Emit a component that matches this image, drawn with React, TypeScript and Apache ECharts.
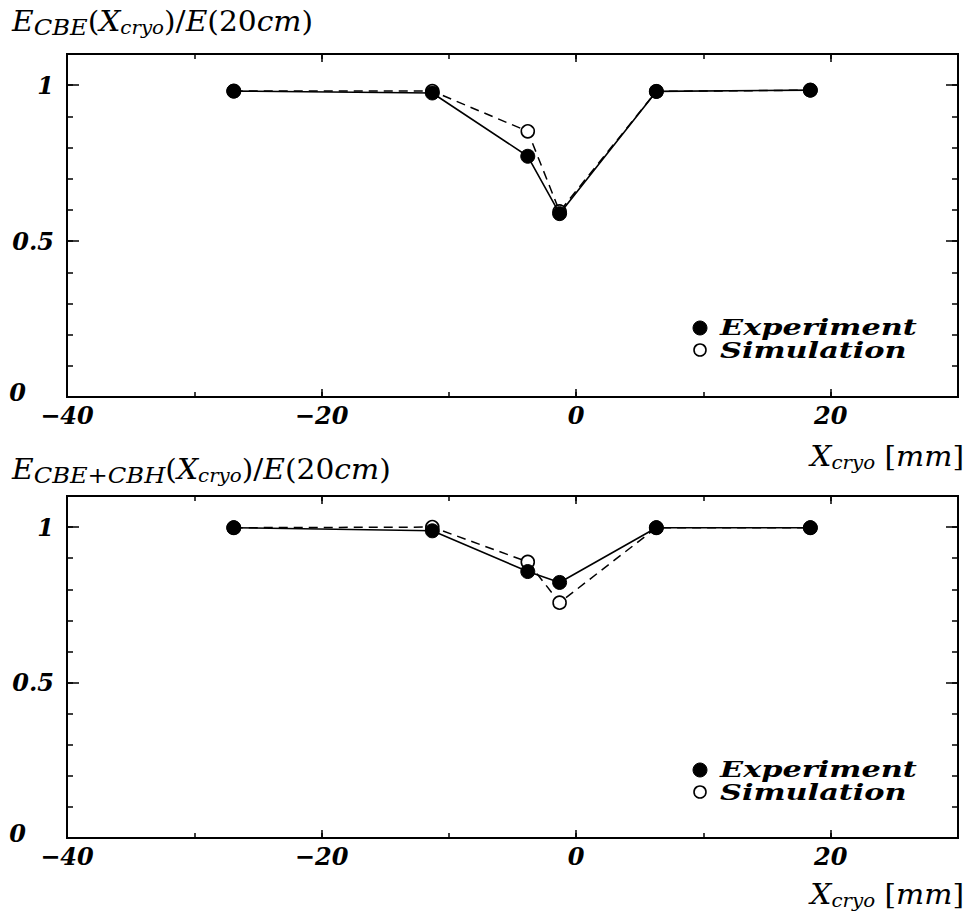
import React, { useEffect, useRef } from 'react';
import * as echarts from 'echarts';

// ---- data ----
const X_POS = [-26.9, -11.3, -3.8, -1.3, 6.3, 18.4];
const TOP_EXP = [0.981, 0.975, 0.772, 0.588, 0.98, 0.984];
const TOP_SIM = [0.981, 0.981, 0.852, 0.595, 0.98, 0.984];
const BOT_EXP = [0.998, 0.988, 0.857, 0.822, 0.998, 0.998];
const BOT_SIM = [0.998, 1.0, 0.888, 0.757, 0.998, 0.998];
const X_TICK_LABELS = [-40, -20, 0, 20];
const Y_TICK_LABELS = [0, 0.5, 1];
const SERIES_NAMES = ['Experiment', 'Simulation'];
const TITLES = [
  '{e|E}{c|CBE}{n|(}{e|X}{s|cryo}{n|)/}{e|E}{n|(20}{e|cm}{n|)}',
  '{e|E}{c|CBE+CBH}{n|(}{e|X}{s|cryo}{n|)/}{e|E}{n|(20}{e|cm}{n|)}',
];
const X_NAME = '{e|X}{s|cryo}{n| [}{e|mm}{n|]}';

const FONT = "'DejaVu Serif', serif";

export default function App() {
  const ref = useRef<HTMLDivElement>(null);

  useEffect(() => {
    document.body.style.margin = '0';
    const chart = echarts.init(ref.current!, null, { renderer: 'svg' });

    const panels = [
      { top: 54, height: 343, exp: TOP_EXP, sim: TOP_SIM },
      { top: 496, height: 342, exp: BOT_EXP, sim: BOT_SIM },
    ];

    const grid: any[] = [];
    const xAxis: any[] = [];
    const yAxis: any[] = [];
    const series: any[] = [];

    const tickStyle = { color: '#000', width: 1.5 };
    const labelBase = {
      color: '#000',
      fontFamily: FONT,
      fontStyle: 'italic',
      fontWeight: 'bold',
      fontSize: 24,
    };

    panels.forEach((p, i) => {
      grid.push({
        left: 67,
        width: 891,
        top: p.top,
        height: p.height,
        show: true,
        borderColor: '#000',
        borderWidth: 2,
        backgroundColor: 'transparent',
      });
      const xb = {
        gridIndex: i,
        type: 'value',
        min: -40,
        max: 30,
        axisLine: { show: false, onZero: false },
        splitLine: { show: false },
      };
      xAxis.push({
        ...xb,
        position: 'bottom',
        interval: 20,
        axisTick: { inside: true, length: 8, lineStyle: tickStyle },
        axisLabel: {
          ...labelBase,
          margin: 6,
          formatter: (v: number) =>
            X_TICK_LABELS.includes(v) ? String(v).replace('-', '\u2212') : '',
        },
      });
      xAxis.push({
        ...xb,
        position: 'bottom',
        interval: 10,
        axisTick: { inside: true, length: 5, lineStyle: tickStyle },
        axisLabel: { show: false },
      });
      xAxis.push({
        ...xb,
        position: 'top',
        interval: 20,
        axisTick: { inside: true, length: 8, lineStyle: tickStyle },
        axisLabel: { show: false },
      });
      xAxis.push({
        ...xb,
        position: 'top',
        interval: 10,
        axisTick: { inside: true, length: 5, lineStyle: tickStyle },
        axisLabel: { show: false },
      });

      const yb = {
        gridIndex: i,
        type: 'value',
        min: 0,
        max: 1.1,
        axisLine: { show: false, onZero: false },
        splitLine: { show: false },
      };
      yAxis.push({
        ...yb,
        position: 'left',
        interval: 0.5,
        axisTick: { inside: true, length: 12, lineStyle: tickStyle },
        axisLabel: {
          ...labelBase,
          margin: 13,
          formatter: (v: number) => {
            if (Math.abs(v) < 1e-6) return '{z|0}';
            return Y_TICK_LABELS.some((t) => Math.abs(t - v) < 1e-6) ? String(v) : '';
          },
          rich: {
            z: { ...labelBase, padding: [0, 28, 10, 0] },
          },
        },
      });
      yAxis.push({
        ...yb,
        position: 'left',
        interval: 0.1,
        axisTick: { inside: true, length: 6, lineStyle: tickStyle },
        axisLabel: { show: false },
      });
      yAxis.push({
        ...yb,
        position: 'right',
        interval: 0.5,
        axisTick: { inside: true, length: 12, lineStyle: tickStyle },
        axisLabel: { show: false },
      });
      yAxis.push({
        ...yb,
        position: 'right',
        interval: 0.1,
        axisTick: { inside: true, length: 6, lineStyle: tickStyle },
        axisLabel: { show: false },
      });

      series.push({
        type: 'line',
        name: SERIES_NAMES[1],
        xAxisIndex: i * 4,
        yAxisIndex: i * 4,
        data: X_POS.map((x, k) => [x, p.sim[k]]),
        symbol: 'circle',
        symbolSize: 13,
        itemStyle: { color: '#fff', borderColor: '#000', borderWidth: 1.6 },
        lineStyle: { color: '#000', width: 1.5, type: [9, 6] },
        z: 2,
      });
      series.push({
        type: 'line',
        name: SERIES_NAMES[0],
        xAxisIndex: i * 4,
        yAxisIndex: i * 4,
        data: X_POS.map((x, k) => [x, p.exp[k]]),
        symbol: 'circle',
        symbolSize: 14,
        itemStyle: { color: '#000', borderColor: '#000', borderWidth: 1 },
        lineStyle: { color: '#000', width: 1.6, type: 'solid' },
        z: 3,
      });
    });

    const richTitle = {
      e: { fontFamily: FONT, fontStyle: 'italic', fontSize: 27, fill: '#000' },
      n: { fontFamily: FONT, fontSize: 27, fill: '#000' },
      s: {
        fontFamily: FONT,
        fontStyle: 'italic',
        fontSize: 18,
        fill: '#000',
        padding: [11, 0, 0, 0],
      },
      c: {
        fontFamily: FONT,
        fontStyle: 'italic',
        fontSize: 22,
        fill: '#000',
        padding: [11, 0, 0, 0],
      },
    };

    const panelOffset = 442;
    const graphic: any[] = [];
    [0, 1].forEach((i) => {
      const dy = i * panelOffset;
      graphic.push({
        type: 'text',
        x: 12,
        y: i === 0 ? 22 : 470,
        scaleX: 1.1,
        style: { text: TITLES[i], rich: richTitle, verticalAlign: 'middle', align: 'left' },
      });
      graphic.push({
        type: 'text',
        x: 964,
        y: i === 0 ? 457 : 895,
        scaleX: 1.1,
        style: {
          text: X_NAME,
          rich: richTitle,
          verticalAlign: 'middle',
          align: 'right',
        },
      });
      graphic.push({
        type: 'circle',
        shape: { cx: 700, cy: 328 + dy, r: 7 },
        style: { fill: '#000', stroke: '#000', lineWidth: 1 },
      });
      graphic.push({
        type: 'circle',
        shape: { cx: 700, cy: 350 + dy, r: 6 },
        style: { fill: '#fff', stroke: '#000', lineWidth: 1.6 },
      });
      [0, 1].forEach((k) => {
        graphic.push({
          type: 'text',
          x: 720,
          y: 327 + k * 23 + dy,
          scaleX: 1.38,
          style: {
            text: SERIES_NAMES[k],
            fontFamily: FONT,
            fontStyle: 'italic',
            fontWeight: 'bold',
            fontSize: 22,
            fill: '#000',
            verticalAlign: 'middle',
          },
        });
      });
    });

    chart.setOption({
      animation: false,
      backgroundColor: '#fff',
      grid,
      xAxis,
      yAxis,
      series,
      graphic,
    });

    return () => chart.dispose();
  }, []);

  return (
    <div
      ref={ref}
      style={{ position: 'fixed', left: 0, top: 0, width: 968, height: 923 }}
    />
  );
}
